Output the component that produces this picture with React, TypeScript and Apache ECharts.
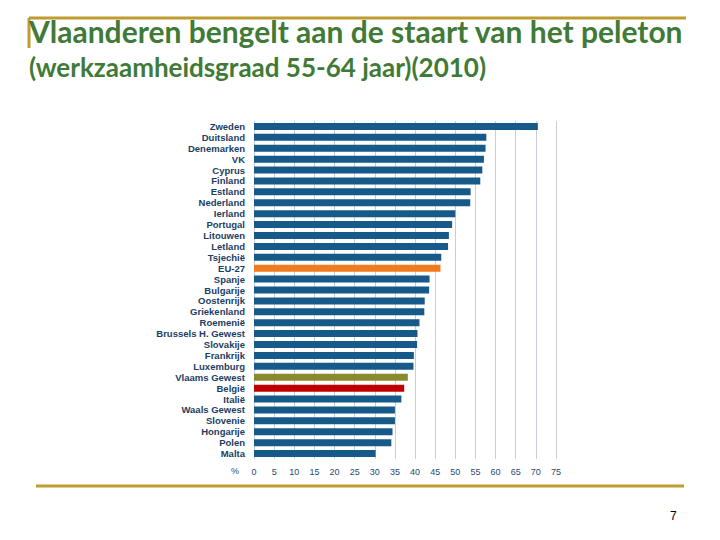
import React, { useEffect, useRef } from "react";
import * as echarts from "echarts";

const categories = [
  "Zweden", "Duitsland", "Denemarken", "VK", "Cyprus", "Finland", "Estland", "Nederland",
  "Ierland", "Portugal", "Litouwen", "Letland", "Tsjechië", "EU-27", "Spanje", "Bulgarije",
  "Oostenrijk", "Griekenland", "Roemenië", "Brussels H. Gewest", "Slovakije", "Frankrijk",
  "Luxemburg", "Vlaams Gewest", "België", "Italië", "Waals Gewest", "Slovenie", "Hongarije",
  "Polen", "Malta",
];
const values = [
  70.5, 57.7, 57.5, 57.1, 56.7, 56.2, 53.8, 53.7, 50.0, 49.2, 48.4, 48.2, 46.5, 46.3, 43.6,
  43.5, 42.4, 42.3, 41.1, 40.6, 40.5, 39.7, 39.6, 38.2, 37.3, 36.6, 35.0, 35.0, 34.4, 34.1, 30.2,
];
const highlight: Record<string, string> = {
  "EU-27": "#f07a1e",
  "Vlaams Gewest": "#8a8a2c",
  "België": "#c00000",
};
const baseColor = "#175a8a";
const title = "Vlaanderen bengelt aan de staart van het peleton";
const subtitle = "(werkzaamheidsgraad 55-64 jaar)(2010)";
const pageNumber = "7";

export default function App() {
  const ref = useRef<HTMLDivElement>(null);
  useEffect(() => {
    if (!ref.current) return;
    const chart = echarts.init(ref.current, null, { renderer: "svg" });
    const gold = "#bf9b30";
    chart.setOption({
      animation: false,
      backgroundColor: "#ffffff",
      grid: { left: 254, right: 164, top: 121, height: 338, containLabel: false },
      xAxis: {
        type: "value",
        min: 0,
        max: 75,
        interval: 5,
        axisLine: { show: false },
        axisTick: { show: false },
        axisLabel: {
          color: "#1f4a70",
          fontSize: 9,
          fontFamily: "Liberation Sans",
          margin: 8,
        },
        splitLine: { show: true, lineStyle: { color: "#c9ced6", width: 1 } },
      },
      yAxis: {
        type: "category",
        inverse: true,
        data: categories,
        axisLine: { show: true, lineStyle: { color: "#c9ced6" } },
        axisTick: { show: false },
        axisLabel: {
          interval: 0,
          color: "#1c3d63",
          fontSize: 9.5,
          fontWeight: "bold",
          fontFamily: "Liberation Sans",
          margin: 9,
        },
      },
      series: [
        {
          type: "bar",
          barWidth: 7,
          data: categories.map((c, i) => ({
            value: values[i],
            itemStyle: { color: highlight[c] || baseColor },
          })),
        },
      ],
      graphic: [
        { type: "line", shape: { x1: 29, y1: 18, x2: 686, y2: 18 }, style: { stroke: gold, lineWidth: 3 } },
        { type: "line", shape: { x1: 29, y1: 18, x2: 29, y2: 48 }, style: { stroke: gold, lineWidth: 3 } },
        { type: "line", shape: { x1: 36, y1: 486, x2: 684, y2: 486 }, style: { stroke: gold, lineWidth: 3 } },
        {
          type: "text",
          left: 29,
          top: 16,
          style: {
            text: title,
            fill: "#3f7a36",
            font: "bold 30px Lato",
          },
        },
        {
          type: "text",
          left: 29,
          top: 54,
          style: {
            text: subtitle,
            fill: "#3f7a36",
            font: "bold 26px Lato",
          },
        },
        {
          type: "text",
          left: 231,
          top: 466,
          style: { text: "%", fill: "#1f4a70", font: "9px 'Liberation Sans'" },
        },
        {
          type: "text",
          left: 670,
          top: 510,
          style: { text: pageNumber, fill: "#000000", font: "12px 'Liberation Sans'" },
        },
      ],
    });
    return () => chart.dispose();
  }, []);
  return <div ref={ref} style={{ width: 720, height: 540, position: "absolute", left: 0, top: 0 }} />;
}
